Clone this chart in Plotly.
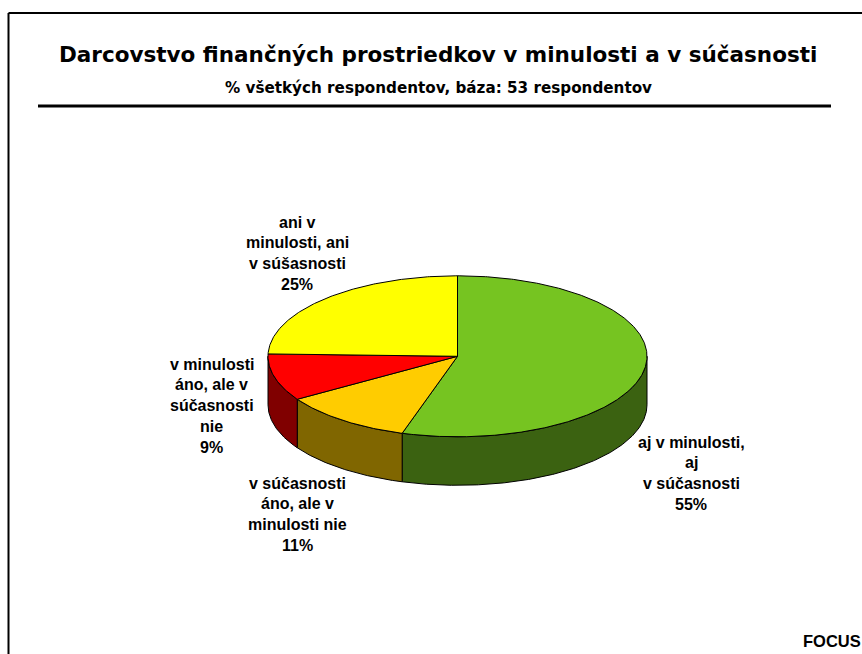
import numpy as np
import plotly.graph_objects as go

# Data: respondents per answer (base 53)
categories = ["aj v minulosti, aj v súčasnosti", "v súčasnosti áno, ale v minulosti nie",
              "v minulosti áno, ale v súčasnosti nie", "ani v minulosti, ani v súšasnosti"]
respondents = [29, 6, 5, 13]
top_colors = ["#76C421", "#FFCC00", "#FF0000", "#FFFF00"]
side_colors = ["#3B6211", "#806600", "#800000", "#808000"]
label_lines = [
    ["aj v minulosti,", "aj", "v súčasnosti", "55%"],
    ["v súčasnosti", "áno, ale v", "minulosti nie", "11%"],
    ["v minulosti", "áno, ale v", "súčasnosti", "nie", "9%"],
    ["ani v", "minulosti, ani", "v súšasnosti", "25%"],
]
label_x = [691, 297, 211.5, 297]
label_y = [442, 483, 364, 222]
title = "Darcovstvo finančných prostriedkov v minulosti a v súčasnosti"
subtitle = "% všetkých respondentov, báza: 53 respondentov"
footer = "FOCUS"

CX, CY, RX, RY, DEPTH = 457.5, 356.3, 189.5, 80.5, 48.5
LABEL_FONT = "Liberation Sans"
TITLE_FONT = "DejaVu Sans"


def rim(a0, a1, dy=0.0):
    t = np.radians(np.linspace(a0, a1, max(int(abs(a1 - a0)) * 2, 2)))
    return CX + RX * np.sin(t), CY - RY * np.cos(t) + dy


fig = go.Figure()
edge = dict(color="#000000", width=1)
cum = np.cumsum([0] + respondents) / sum(respondents) * 360

# walls (only the front half, angle 90..270)
for i in range(len(respondents)):
    a0, a1 = max(cum[i], 90), min(cum[i + 1], 270)
    if a1 <= a0:
        continue
    xt, yt = rim(a0, a1)
    xb, yb = rim(a1, a0, DEPTH)
    fig.add_trace(go.Scatter(x=np.r_[xt, xb, xt[0]], y=np.r_[yt, yb, yt[0]], mode="lines",
                             fill="toself", fillcolor=side_colors[i], line=edge, hoverinfo="skip"))
# top slices
for i in range(len(respondents)):
    xt, yt = rim(cum[i], cum[i + 1])
    fig.add_trace(go.Scatter(x=np.r_[CX, xt, CX], y=np.r_[CY, yt, CY], mode="lines",
                             fill="toself", fillcolor=top_colors[i], line=edge,
                             name=categories[i], hoverinfo="name"))

ann = []
for lines, x, y in zip(label_lines, label_x, label_y):
    for j, s in enumerate(lines):
        ann.append(dict(x=x, y=y + j * 20.8, text=f"<b>{s}</b>", showarrow=False, xanchor="center", yanchor="middle",
                        font=dict(family=LABEL_FONT, size=16, color="#000000")))
ann.append(dict(x=437.5, y=54, text=f"<b>{title}</b>", showarrow=False, xanchor="center", yanchor="middle",
                font=dict(family=TITLE_FONT, size=21.5, color="#000000")))
ann.append(dict(x=438.5, y=88, text=f"<b>{subtitle}</b>", showarrow=False, xanchor="center", yanchor="middle",
                font=dict(family=TITLE_FONT, size=15.2, color="#000000")))
ann.append(dict(x=801, y=641, text=f"<b>{footer}</b>", showarrow=False, xanchor="left", yanchor="middle",
                font=dict(family=LABEL_FONT, size=16.5, color="#000000")))

shapes = [
    dict(type="line", x0=8.5, x1=8.5, y0=13, y1=654, line=dict(color="#000000", width=2)),
    dict(type="line", x0=8.5, x1=862, y0=13, y1=13, line=dict(color="#000000", width=2)),
    dict(type="line", x0=38, x1=831, y0=106, y1=106, line=dict(color="#000000", width=3)),
]

fig.update_layout(
    width=862, height=654, margin=dict(l=0, r=0, t=0, b=0), showlegend=False,
    paper_bgcolor="#FFFFFF", plot_bgcolor="#FFFFFF", annotations=ann, shapes=shapes,
    xaxis=dict(range=[0, 862], visible=False, fixedrange=True),
    yaxis=dict(range=[654, 0], visible=False, fixedrange=True),
)
fig.write_html("out.html", config={"displayModeBar": False},
               post_script="document.body.style.margin='0';document.documentElement.style.overflow='hidden';")
